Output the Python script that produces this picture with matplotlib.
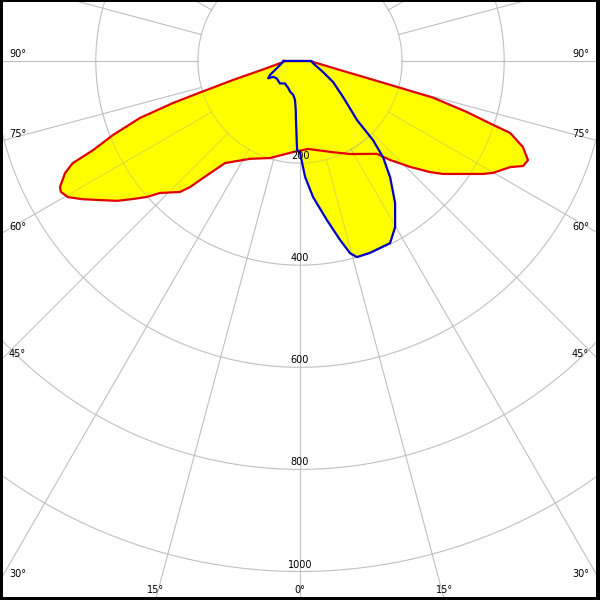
import numpy as np
import matplotlib.pyplot as plt
from matplotlib.patches import Rectangle

# photometric data: gamma in degrees (negative = left half), intensity in cd
# C0-C180 plane (red outline)
red_gamma = [-90, -86.6, -78.0, -75.4, -74.2, -72.5, -71.7, -70.4, -68.4, -66.7,
             -65.8, -64.5, -62.3, -61.3, -59.6, -57.5, -52.6, -50.4, -48.4, -46.7,
             -42.5, -41.1, -40.0, -36.3, -27.0, -17.2, -4.4, 5.2, 19.9, 28.3,
             39.6, 42.3, 46.1, 49.5, 51.7, 58.3, 59.9, 63.2, 64.8, 66.5,
             68.9, 71.1, 71.7, 73.0, 74.6, 75.0, 75.8, 77.3, 85.6, 90]
red_cd = [30, 33, 66, 101, 136, 205, 262, 333, 394, 441,
          488, 510, 531, 534, 527, 504, 451, 424, 401, 377,
          348, 328, 304, 248, 215, 199, 179, 173, 190, 207,
          236, 262, 299, 335, 357, 421, 437, 461, 483, 487,
          468, 435, 398, 342, 270, 203, 135, 80, 26, 22]

# C90-C270 plane (blue outline)
blue_gamma = [-90, -87.6, -78.7, -70.2, -65.0, -61.4, -59.5, -53.4, -41.9, -33.9,
              -23.2, -18.0, -11.1, -7.3, -5.0, -3.9, -1.9, 0, 2.5, 5.5,
              9.6, 12.6, 14.6, 16.2, 20.0, 26.3, 29.8, 33.8, 37.8, 40.8,
              42.7, 44.0, 50.1, 57.5, 64.4, 80.2, 90]
blue_cd = [32, 33, 40, 52, 65, 71, 61, 57, 59, 53,
           58, 63, 68, 77, 96, 116, 174, 180, 227, 268,
           316, 359, 389, 400, 400, 398, 375, 335, 288, 249,
           211, 161, 110, 77, 50, 26, 22]

rings = [200, 400, 600, 800, 1000]
angle_labels = [90, 75, 60, 45, 30]
bottom_labels = [-15, 0, 15]

S = 0.5105          # px per cd
CX, CY = 300, 61    # pole position in pixels
PT = 0.72           # points per pixel at 100 dpi

fig = plt.figure(figsize=(6, 6), dpi=100)
ax = fig.add_axes([0, 0, 1, 1])
ax.set_xlim(-CX / S, (600 - CX) / S)
ax.set_ylim(-(600 - CY) / S, CY / S)
ax.axis('off')


def to_xy(gamma, cd):
    g = np.radians(gamma)
    cd = np.asarray(cd, dtype=float)
    return cd * np.sin(g), -cd * np.cos(g)


rx, ry = to_xy(red_gamma, red_cd)
bx, by = to_xy(blue_gamma, blue_cd)

red_poly = ax.fill(rx, ry, color='#ffff00', zorder=1, lw=0)[0]
blue_poly = ax.fill(bx, by, color='#ffff00', zorder=1, lw=0)[0]

t = np.linspace(0, 2 * np.pi, 721)


def draw_grid(clip=None, **kw):
    lines = []
    for r in rings:
        lines += ax.plot(r * np.cos(t), r * np.sin(t), **kw)
    for a in range(0, 360, 15):
        ar = np.radians(a)
        lines += ax.plot([200 * np.sin(ar), 3000 * np.sin(ar)],
                         [-200 * np.cos(ar), -3000 * np.cos(ar)], **kw)
    if clip is not None:
        for ln in lines:
            ln.set_clip_path(clip)


# grid under the fill, and a faint copy seen through the yellow
draw_grid(color='#c0c0c0', lw=0.8, zorder=0)
draw_grid(clip=red_poly, color='#a0a0a0', lw=0.8, alpha=0.35, zorder=2)
draw_grid(clip=blue_poly, color='#a0a0a0', lw=0.8, alpha=0.35, zorder=2)

ax.plot(np.append(rx, rx[0]), np.append(ry, ry[0]), color='#e00000', lw=1.6, zorder=3)
ax.plot(np.append(bx, bx[0]), np.append(by, by[0]), color='#0000c8', lw=1.6, zorder=4)

txt_kw = dict(fontsize=7, color='black', zorder=5)

# ring labels
for r in rings:
    ax.annotate(str(r), xy=(0, -r), xytext=(0, 2 * PT), textcoords='offset points',
                ha='center', va='bottom', **txt_kw)

# angle labels at the frame
x_edge = CX / S
for a in angle_labels:
    ar = np.radians(a)
    y_edge = -x_edge * np.cos(ar) / np.sin(ar)
    ax.annotate(f'{a}°', xy=(-x_edge, y_edge), xytext=(9 * PT, 2 * PT),
                textcoords='offset points', ha='left', va='bottom', **txt_kw)
    ax.annotate(f'{a}°', xy=(x_edge, y_edge), xytext=(-11 * PT, 2 * PT),
                textcoords='offset points', ha='right', va='bottom', **txt_kw)

y_bot = -(600 - CY) / S
for a in bottom_labels:
    xb = -y_bot * np.tan(np.radians(a))
    ax.annotate(f'{abs(a)}°', xy=(xb, y_bot), xytext=(0, 7 * PT),
                textcoords='offset points', ha='center', va='baseline', **txt_kw)

# black frame
for (x0, y0, w, h) in [(0, 0, 3 / 600, 1), (1 - 4 / 600, 0, 4 / 600, 1),
                       (0, 1 - 2 / 600, 1, 2 / 600), (0, 0, 1, 3 / 600)]:
    fig.add_artist(Rectangle((x0, y0), w, h, transform=fig.transFigure,
                             facecolor='black', edgecolor='none', zorder=10))

fig.savefig('out.png', dpi=100)
